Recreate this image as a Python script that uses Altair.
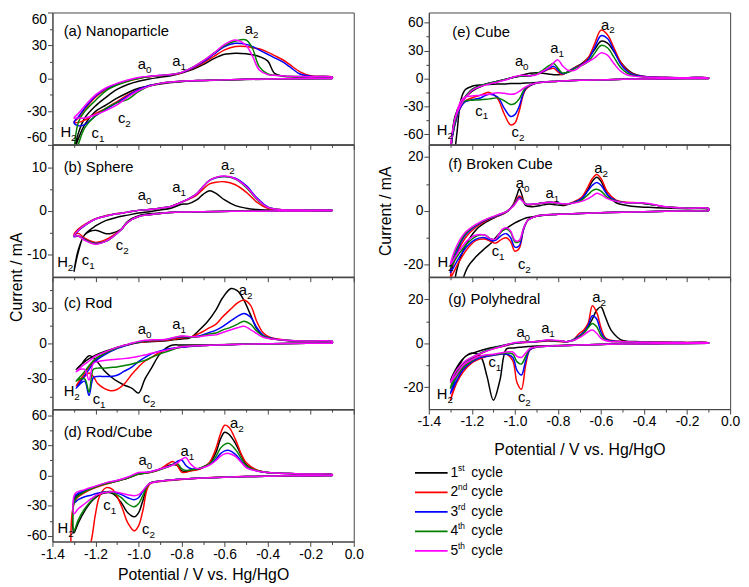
import altair as alt
import pandas as pd

FONT = "Liberation Sans, Arial, Helvetica, sans-serif"
FRAME = "#444444"
CYCLES = ["1st", "2nd", "3rd", "4th", "5th"]
CYCLE_NUM = ["1", "2", "3", "4", "5"]
CYCLE_SUP = ["st", "nd", "rd", "th", "th"]
COLORS = ["#000000", "#ff0000", "#0000ff", "#008000", "#ff00ff"]
X_TICKS = [round(-1.4 + 0.1 * i, 1) for i in range(15)]

# ---------------- (a) Nanoparticle ----------------
A_XLO = [-0.1, -0.3, -0.5, -0.7, -0.8, -0.9, -0.95, -1.0, -1.05, -1.1, -1.15, -1.2, -1.25, -1.28, -1.3]
A1_LO = [0, -0.4, -1, -2, -3, -5, -7, -9, -13, -18, -24, -30, -42, -55, -66]
A2_LO = [0, -0.3, -0.8, -1.8, -2.6, -4.5, -6.5, -10, -15, -21, -27, -32, -38, -40, -40]
A3_LO = [0, -0.3, -0.8, -1.8, -2.6, -4.5, -6.5, -10, -16, -22, -28, -34, -42, -43, -40]
A4_LO = [0, -0.3, -0.8, -1.8, -2.6, -4.5, -7, -12, -19, -22, -27, -34, -45, -60, -72]
A5_LO = [0, -0.3, -0.8, -1.8, -2.6, -4.5, -7, -11, -17, -24, -29, -33, -36, -36, -36]
A_XUP = [-1.3, -1.28, -1.25, -1.2, -1.15, -1.1, -1.05, -1.0, -0.95, -0.9, -0.85, -0.8, -0.75, -0.7,
         -0.65, -0.6, -0.55, -0.5, -0.47, -0.44, -0.4, -0.37, -0.33, -0.3, -0.25, -0.2, -0.1]
A1_UP = [-66, -50, -36, -25, -17, -10, -5.5, -2.5, -0.5, 1, 2.5, 5, 8, 12.5, 18, 22, 23, 22.5, 21.5, 20, 16, 5, 2, 1.5, 1.3, 1.2, 1]
A2_UP = [-40, -36, -28, -17, -10, -5.5, -2.5, 0, 1.5, 2.5, 3.3, 5, 9, 14, 20, 26, 29, 29, 28, 27, 24, 21, 17, 13, 6, 2.5, 1.2]
A3_UP = [-40, -35, -27, -16, -9, -5, -2, 0.5, 1.8, 2.6, 3.4, 5.3, 9.5, 15, 22, 29, 32, 31, 29, 26, 22, 19, 15, 11, 4, 2, 1.2]
A4_UP = [-72, -40, -30, -20, -11, -6, -2.5, 0, 1.8, 2.7, 3.5, 5.5, 10, 16, 23, 30, 34, 35, 27, 11, 4, 3, 2.4, 2, 1.8, 1.5, 1.2]
A5_UP = [-36, -32, -25, -15, -8.5, -4.5, -1.5, 0.8, 2, 2.8, 3.5, 5.5, 10, 16, 23, 31, 35, 30, 20, 8, 3.5, 2.8, 2.4, 2, 1.8, 1.5, 1.2]

# ---------------- (b) Sphere ----------------
B_XLO = [-0.1, -0.3, -0.5, -0.7, -0.8, -0.9, -0.95, -1.0, -1.05, -1.08, -1.12, -1.15, -1.2, -1.25, -1.28, -1.3]
B1_LO = [0, -0.05, -0.1, -0.2, -0.3, -0.5, -0.7, -1.1, -2.4, -4.2, -5.1, -5.3, -4.5, -5.5, -9.5, -14]
B2_LO = [0, -0.05, -0.1, -0.2, -0.3, -0.6, -0.9, -1.3, -2.6, -4.3, -5.7, -6.6, -7.3, -6.3, -5.2, -5.5]
B3_LO = [0, -0.05, -0.1, -0.2, -0.3, -0.6, -0.9, -1.3, -2.6, -4.3, -6.0, -7.0, -7.5, -6.6, -5.8, -6]
B4_LO = [0, -0.05, -0.1, -0.2, -0.3, -0.6, -0.9, -1.3, -2.6, -4.3, -6.0, -7.0, -7.6, -6.7, -5.8, -5.8]
B5_LO = [0, -0.05, -0.1, -0.2, -0.3, -0.6, -0.9, -1.3, -2.6, -4.3, -6.0, -7.0, -7.7, -6.8, -5.8, -5.8]
B_XUP = [-1.3, -1.28, -1.25, -1.2, -1.15, -1.1, -1.05, -1.0, -0.95, -0.9, -0.85, -0.8, -0.77, -0.73,
         -0.7, -0.67, -0.64, -0.6, -0.55, -0.5, -0.45, -0.4, -0.35, -0.3, -0.2, -0.1]
B1_UP = [-14, -9, -5.5, -3.5, -2.2, -1.5, -1, -0.5, -0.2, 0.2, 0.6, 1.5, 1.6, 2.5, 3.8, 4.6, 4.0, 2.5, 1.2, 0.6, 0.3, 0.2, 0.15, 0.1, 0.1, 0.1]
B2_UP = [-5.5, -4.2, -3.1, -1.8, -1.1, -0.6, -0.3, 0.1, 0.3, 0.6, 1.0, 2.0, 2.6, 3.6, 5.0, 6.2, 6.6, 6.7, 6.0, 4.3, 2.0, 0.6, 0.3, 0.2, 0.15, 0.1]
B3_UP = [-6, -4.6, -3.4, -1.9, -1.2, -0.7, -0.3, 0.1, 0.3, 0.6, 1.0, 2.0, 2.7, 3.9, 5.6, 7.0, 7.6, 7.9, 7.5, 5.8, 3.0, 0.9, 0.3, 0.2, 0.15, 0.1]
B4_UP = [-5.8, -4.5, -3.3, -1.9, -1.2, -0.7, -0.3, 0.1, 0.3, 0.6, 1.0, 2.0, 2.7, 3.9, 5.6, 7.0, 7.7, 7.9, 7.3, 5.4, 2.6, 0.8, 0.3, 0.2, 0.15, 0.1]
B5_UP = [-5.8, -4.5, -3.3, -1.9, -1.2, -0.7, -0.3, 0.1, 0.3, 0.6, 1.0, 2.0, 2.7, 3.9, 5.6, 7.0, 7.7, 8.0, 7.4, 5.6, 2.8, 0.8, 0.3, 0.2, 0.15, 0.1]

# ---------------- (c) Rod ----------------
C_XLO = [-0.1, -0.3, -0.5, -0.7, -0.8, -0.85, -0.9, -0.94, -0.97, -1.0, -1.03, -1.07, -1.1, -1.13,
         -1.16, -1.19, -1.21, -1.23, -1.25, -1.27, -1.29]
C1_LO = [0, -0.2, -0.8, -1.5, -1.5, -2, -9, -21, -30, -42, -38, -35, -32, -28, -23, -16, -12, -10.5, -14, -19, -22]
C2_LO = [0, -0.2, -0.8, -2, -3.5, -5, -7.5, -12, -15, -20, -26, -35, -39, -40, -38, -34, -28, -25, -28, -32, -36]
C3_LO = [0, -0.2, -0.8, -2, -3.5, -4.5, -6.5, -9, -12, -15.5, -20, -24, -27, -28, -28, -28, -29, -44, -32, -34, -38]
C4_LO = [0, -0.2, -0.8, -2, -3, -6, -9, -12, -14.5, -16, -17.5, -19, -20, -20.5, -21, -21, -22, -41, -30, -30, -32]
C5_LO = [0, -0.2, -0.8, -2, -3, -5, -7, -8.5, -10, -11, -12, -13, -13.5, -14, -14.5, -15.5, -17, -31, -22, -22, -24]
C_XUP = [-1.29, -1.26, -1.23, -1.2, -1.15, -1.1, -1.05, -1.0, -0.97, -0.93, -0.87, -0.83, -0.8, -0.76,
         -0.72, -0.68, -0.64, -0.61, -0.57, -0.54, -0.51, -0.48, -0.45, -0.42, -0.39, -0.35, -0.3, -0.2, -0.1]
C1_UP = [-22, -17, -13, -10, -6.5, -3.5, -1, 0.5, 1, 1.5, 2, 3, 3.5, 4.5, 10.7, 18, 28, 38, 46, 44, 36, 24, 12, 6, 4, 3, 2, 1.8, 1.5]
C2_UP = [-36, -28, -20, -14, -8, -4, -1.5, 0.5, 1.2, 1.8, 2.5, 3.5, 4.5, 5, 8, 12, 16, 22, 29, 34, 36.4, 32, 18, 8.5, 5, 3.5, 2.2, 1.8, 1.5]
C3_UP = [-38, -30, -22, -15, -9, -4.5, -1.5, 0.8, 1.8, 2.3, 3, 4.5, 5.5, 5, 6, 8.5, 11, 14, 19, 22.5, 25, 22, 13, 6.5, 4.5, 3, 2.2, 1.8, 1.5]
C4_UP = [-32, -26, -19, -13, -8, -4, -1.2, 1, 2, 2.5, 3.2, 4.8, 5.8, 5, 5.5, 7.5, 8.5, 11, 13.5, 16, 18.5, 16, 10, 6, 4.2, 3, 2.2, 1.8, 1.5]
C5_UP = [-24, -19, -15, -11, -7, -3.5, -1, 1.5, 2.5, 2.8, 3.3, 5, 6, 5.5, 5.5, 6.5, 7, 9, 11.3, 13, 14.3, 11.5, 8, 5, 3.8, 3, 2.2, 1.8, 1.5]

# ---------------- (d) Rod/Cube ----------------
D_XLO = [-0.1, -0.3, -0.5, -0.7, -0.8, -0.9, -0.95, -0.98, -1.0, -1.02, -1.05, -1.08, -1.12, -1.15,
         -1.18, -1.2, -1.22, -1.25, -1.28, -1.3]
D1_LO = [0, -0.3, -1, -2.5, -3.5, -5.5, -8, -25, -37, -41, -37, -27, -18, -17, -19, -22, -26, -35, -47, -57]
D2_LO = [0, -0.3, -1, -2.5, -4, -6, -9, -35, -50, -55, -47, -30, -14, -12, -20, -38, -65, -85, -90, -90]
D3_LO = [0, -0.3, -1, -2.5, -3.5, -5.5, -8, -16, -22, -24, -22, -19, -16, -16, -17, -18, -19.5, -21, -24, -27]
D4_LO = [0, -0.3, -1, -2.5, -3.5, -5.5, -8, -20, -28, -31, -28, -22, -17, -16, -18, -21, -25, -33, -44, -55]
D5_LO = [0, -0.3, -1, -2.5, -3.5, -5.5, -8, -15, -19, -20, -19, -17.5, -16, -16.5, -18, -20, -23, -28, -33, -38]
D_XUP = [-1.3, -1.295, -1.25, -1.2, -1.15, -1.1, -1.05, -1.0, -0.95, -0.9, -0.86, -0.84, -0.82, -0.8,
         -0.78, -0.76, -0.73, -0.7, -0.67, -0.64, -0.62, -0.6, -0.58, -0.55, -0.52, -0.5, -0.45, -0.4, -0.3, -0.2, -0.1]
D1_UP = [-57, -22, -16, -11.5, -8, -5.5, -2.5, 1.5, 3, 6, 10, 11, 10, 5, 4, 5, 6, 8.5, 12.5, 23, 36, 43, 41, 32, 19, 11, 5, 3, 2, 1.5, 1]
D2_UP = [-90, -25, -17, -12, -8.5, -5.5, -2.5, 1.5, 3, 6.5, 12, 14, 10, 3.5, 3.2, 4.5, 5.5, 8, 13, 27, 41, 50, 48, 36, 20, 13, 5.5, 3, 2, 1.5, 1]
D3_UP = [-27, -20, -15, -11, -7.5, -5, -2, 2, 3.5, 6.5, 9, 11, 14, 15.5, 10, 7, 6.5, 8, 11, 16.5, 21.5, 24.5, 25, 21, 13.5, 8.5, 4.5, 3, 2, 1.5, 1]
D4_UP = [-55, -24, -16, -11.5, -8, -5.5, -2.5, 1.5, 3, 6, 9, 11, 12, 7, 5, 5.5, 6.5, 8.5, 12, 19, 27, 31, 32, 26, 16, 10, 5, 3, 2, 1.5, 1]
D5_UP = [-38, -18, -14, -10.5, -7, -5, -1.5, 3, 3.5, 6.5, 9, 10.5, 12.5, 16, 18, 12, 7, 8, 10.5, 15, 19, 21.5, 22, 19, 12.5, 8, 4.5, 3, 2, 1.5, 1]

# ---------------- (e) Cube ----------------
E_XLO = [-0.1, -0.3, -0.5, -0.7, -0.8, -0.9, -0.95, -0.98, -1.0, -1.02, -1.05, -1.08, -1.12, -1.16,
         -1.2, -1.23, -1.25, -1.27, -1.29, -1.3]
E1_LO = [0, -0.3, -1, -2, -3, -4.5, -5, -5.5, -5.5, -5.5, -6, -6, -6.5, -7, -8.5, -12, -22, -60, -100, -110]
E2_LO = [0, -0.3, -1, -2, -3, -5, -12, -35, -48, -50, -38, -22, -15, -18, -21, -24, -30, -42, -62, -80]
E3_LO = [0, -0.3, -1, -2, -3, -5, -11, -30, -39, -41, -32, -20, -17, -21, -23, -25, -30, -42, -62, -80]
E4_LO = [0, -0.3, -1, -2, -3, -5, -10, -22, -27, -28, -24, -21, -22, -23, -23.5, -24, -28, -40, -60, -78]
E5_LO = [0, -0.3, -1, -2, -3, -5, -9, -14, -16.5, -17, -16, -15.5, -17, -18, -19, -20, -24, -36, -57, -76]
E_XUP = [-1.3, -1.28, -1.25, -1.2, -1.15, -1.1, -1.05, -1.0, -0.97, -0.93, -0.9, -0.87, -0.84, -0.82,
         -0.8, -0.78, -0.75, -0.72, -0.69, -0.66, -0.63, -0.6, -0.57, -0.54, -0.51, -0.48, -0.45, -0.4, -0.3, -0.2, -0.1]
E1_UP = [-110, -42, -26, -14, -8, -4.5, -1.5, 1.5, 3.5, 5.5, 6, 5.5, 4.5, 4, 4, 4.5, 7, 12, 16, 22, 31, 40, 38, 29, 18, 10, 5, 2, 1, 0.8, 0.5]
E2_UP = [-80, -45, -27, -12, -7, -4, -1.5, 1.5, 2.5, 3, 4.5, 7, 10, 11, 7, 4, 8, 12, 15, 22, 37, 52, 47, 33, 18, 9, 4.5, 2, 1, 0.8, 0.5]
E3_UP = [-80, -45, -27, -12, -7, -4, -1.5, 1.5, 2.5, 3, 4.5, 7.5, 11, 13, 9, 5, 7.5, 11.5, 14.5, 20, 33, 46, 43, 30, 16, 8, 4, 2, 1, 0.8, 0.5]
E4_UP = [-78, -45, -27, -12, -7, -4, -1.5, 1.5, 2.5, 3, 5, 9, 14, 16, 11, 6, 7, 11, 14, 18, 27, 35.5, 33, 23, 12, 6, 3, 1.5, 1, 0.8, 0.5]
E5_UP = [-76, -45, -28, -13, -8, -5, -2, 2, 3.5, 3, 4, 8, 12, 17, 20, 14, 8.5, 9, 14, 18, 22, 27.5, 25, 16, 8, 4, 2.5, 1.5, 1, 0.8, 0.5]

# ---------------- (f) Broken Cube ----------------
F_XLO = [-0.1, -0.3, -0.5, -0.7, -0.8, -0.9, -0.94, -0.96, -0.98, -1.0, -1.02, -1.04, -1.06, -1.09,
         -1.11, -1.14, -1.18, -1.22, -1.26, -1.3]
F1_LO = [0, -0.2, -0.5, -1, -1.3, -2, -2.5, -3, -3.7, -4.5, -5.5, -6.5, -7.5, -10, -12, -14, -17, -21, -30, -40]
F2_LO = [0, -0.2, -0.5, -1, -1.3, -2, -3.5, -7, -14, -15, -11.5, -10, -10.5, -12, -11.5, -10.5, -11, -14, -19, -25]
F3_LO = [0, -0.2, -0.5, -1, -1.3, -2, -3.5, -7, -13, -13.5, -10, -8.5, -9, -11, -11, -10, -10.5, -13, -17.5, -23]
F4_LO = [0, -0.2, -0.5, -1, -1.3, -2, -3.5, -6.5, -11.5, -11.5, -8, -6.8, -7.5, -10.5, -10.5, -9, -9.5, -12, -16, -21]
F5_LO = [0, -0.2, -0.5, -1, -1.3, -2, -3.5, -6.5, -11, -11, -7.5, -6.3, -7, -10.5, -10.5, -9, -9, -11, -15, -20]
F_XUP = [-1.3, -1.27, -1.23, -1.18, -1.13, -1.08, -1.04, -1.01, -0.99, -0.98, -0.97, -0.95, -0.92, -0.88,
         -0.84, -0.81, -0.77, -0.73, -0.69, -0.66, -0.64, -0.62, -0.6, -0.57, -0.53, -0.48, -0.43, -0.38, -0.3, -0.2, -0.1]
F1_UP = [-40, -22, -13, -7, -4, -2, -0.5, 2, 6, 8.2, 6.5, 2, 1.5, 2, 2.5, 2.2, 2, 3, 4.5, 8, 11, 12.5, 11, 6, 3, 2, 1.5, 1.3, 1, 0.8, 0.6]
F2_UP = [-25, -16, -10, -6, -3.5, -2, -0.5, 2, 4.5, 5.5, 5, 2.5, 2.3, 2.8, 3.2, 3, 2.3, 3.2, 5, 9, 12, 13.5, 12, 7, 4, 3.2, 3, 2.5, 1.5, 1, 0.8]
F3_UP = [-23, -15, -9, -5.5, -3.3, -1.8, -0.4, 1.8, 4, 5, 4.5, 2.5, 2.4, 2.8, 3.2, 3, 2.4, 3, 4.5, 7.5, 9.5, 10.5, 9.5, 6, 3.8, 3, 3, 2.5, 1.5, 1, 0.8]
F4_UP = [-21, -14, -8.5, -5.2, -3.1, -1.6, -0.3, 1.6, 3.8, 4.7, 4.2, 2.5, 2.4, 2.8, 3.2, 3, 2.4, 2.9, 4, 6, 7.5, 8, 7.3, 5, 3.6, 3, 3, 2.5, 1.5, 1, 0.8]
F5_UP = [-20, -13, -8, -5, -3, -1.5, -0.3, 1.5, 3.5, 4.5, 4, 2.5, 2.5, 2.8, 3.2, 3, 2.5, 2.8, 3.5, 4.5, 5.5, 6.5, 6, 4.5, 3.5, 3, 3, 2.7, 1.5, 1, 0.8]

# ---------------- (g) Polyhedral ----------------
G_XLO = [-0.1, -0.3, -0.5, -0.7, -0.8, -0.9, -0.93, -0.95, -0.97, -0.99, -1.01, -1.04, -1.07, -1.1,
         -1.13, -1.16, -1.2, -1.24, -1.27, -1.3]
G1_LO = [0, -0.2, -0.4, -0.8, -1, -1.3, -1.5, -1.6, -1.8, -2, -2.2, -2.7, -17, -26, -15, -6, -4.5, -7, -11, -17]
G2_LO = [0, -0.2, -0.4, -0.8, -1.2, -1.8, -3, -10, -21, -18, -8, -5, -5, -5.5, -6, -7, -9, -13, -18, -26]
G3_LO = [0, -0.2, -0.4, -0.8, -1.2, -1.8, -3, -8, -14.5, -12.5, -6.5, -5, -5, -5.5, -6, -6.5, -8.5, -12, -17, -23]
G4_LO = [0, -0.2, -0.4, -0.8, -1.2, -1.8, -2.5, -6, -9.5, -8.5, -5, -4.5, -4.8, -5.2, -5.5, -6, -8, -11, -15, -20.5]
G5_LO = [0, -0.2, -0.4, -0.8, -1.2, -1.8, -2.5, -4.5, -6.5, -6, -4, -4, -4.5, -5, -5.3, -5.8, -7.5, -10, -14, -18]
G_XUP = [-1.3, -1.27, -1.23, -1.18, -1.13, -1.08, -1.03, -1.0, -0.95, -0.9, -0.85, -0.8, -0.76, -0.73,
         -0.7, -0.68, -0.66, -0.64, -0.62, -0.6, -0.58, -0.55, -0.5, -0.45, -0.4, -0.3, -0.2, -0.1]
G1_UP = [-17, -12, -6, -4, -2.5, -1.5, -0.5, 0, 0.5, 0.8, 1.2, 1, 0.7, 1.2, 3, 5, 7.5, 11, 15, 16.5, 12, 5.5, 1.2, 0.8, 0.5, 0.4, 0.3, 0.2]
G2_UP = [-26, -17, -10, -6, -3.5, -2, -0.8, 0, 0.3, 0.6, 1, 0.8, 0.6, 1.5, 4.5, 6, 9, 17, 14, 7, 2.5, 1.2, 0.8, 0.6, 0.5, 0.4, 0.3, 0.2]
G3_UP = [-23, -15, -9, -5.5, -3.3, -1.8, -0.7, 0, 0.4, 0.7, 1.2, 1, 0.7, 1.5, 3.5, 5, 8, 12.5, 11, 5, 2, 1, 0.7, 0.5, 0.4, 0.3, 0.25, 0.2]
G4_UP = [-20.5, -13, -8.5, -5.5, -3.3, -1.8, -0.6, 0.1, 0.5, 0.8, 1.3, 1, 0.7, 1.4, 3, 4.5, 7, 9, 7.5, 3.5, 1.5, 0.8, 0.6, 0.5, 0.4, 0.3, 0.25, 0.2]
G5_UP = [-18, -12, -8, -5.5, -3.5, -2, -0.5, 0.3, 0.5, 0.8, 1.5, 1.2, 0.7, 1.2, 2.5, 3.8, 5.2, 6, 4.5, 2.2, 1.2, 0.7, 0.6, 0.5, 0.4, 0.3, 0.25, 0.2]

# ---------------- panel texts ----------------
PANEL_KEYS = ["a", "b", "c", "d", "e", "f", "g"]
PANEL_TITLES = ["(a) Nanoparticle", "(b) Sphere", "(c) Rod", "(d) Rod/Cube",
                "(e) Cube", "(f) Broken Cube", "(g) Polyhedral"]
TITLE_X = [-1.348, -1.348, -1.348, -1.348, -1.291, -1.31, -1.31]
TITLE_Y = [43, 10, 34, 43, 50, 17.5, 20]

LBL_PANEL = (["a"] * 6 + ["b"] * 6 + ["c"] * 6 + ["d"] * 6 + ["e"] * 6 + ["f"] * 6 + ["g"] * 6)
LBL_BASE = ["a", "a", "a", "c", "c", "H"] * 7
LBL_SUB = ["0", "1", "2", "1", "2", "2"] * 7
LBL_X = [-1.004, -0.843, -0.506, -1.218, -1.096, -1.363,
         -1.004, -0.843, -0.617, -1.264, -1.106, -1.378,
         -1.004, -0.843, -0.534, -1.213, -0.981, -1.348,
         -1.000, -0.805, -0.575, -1.164, -0.984, -1.376,
         -1.000, -0.836, -0.600, -1.184, -1.016, -1.363,
         -0.996, -0.858, -0.631, -1.108, -0.986, -1.360,
         -0.993, -0.878, -0.641, -1.123, -0.986, -1.363]
LBL_Y = [12.7, 15.8, 44.5, -49.4, -35.8, -48.5,
         3.6, 5.5, 10.5, -11.3, -8.0, -11.9,
         12.1, 16.3, 45.0, -47.0, -46.3, -40.2,
         15.2, 24.3, 52.0, -29.2, -53.5, -52.0,
         18.4, 32.5, 58.0, -34.6, -57.5, -55.8,
         10.2, 6.7, 15.7, -15.0, -19.9, -19.2,
         5.2, 6.7, 20.8, -8.8, -24.7, -23.2]


def loops(key, xlo, los, xup, ups):
    rows = []
    for ci in range(5):
        assert len(xlo) == len(los[ci]), (key, ci, "lo")
        assert len(xup) == len(ups[ci]), (key, ci, "up")
        pts = list(zip(xlo, los[ci]))
        up = list(zip(xup, ups[ci]))
        if up[0] == pts[-1]:
            up = up[1:]
        pts = pts + up + [pts[0]]
        for k, (v, i) in enumerate(pts):
            rows.append({"panel": key, "cycle": CYCLES[ci], "k": k, "V": v, "I": i})
    return rows


rows = []
rows += loops("a", A_XLO, [A1_LO, A2_LO, A3_LO, A4_LO, A5_LO], A_XUP, [A1_UP, A2_UP, A3_UP, A4_UP, A5_UP])
rows += loops("b", B_XLO, [B1_LO, B2_LO, B3_LO, B4_LO, B5_LO], B_XUP, [B1_UP, B2_UP, B3_UP, B4_UP, B5_UP])
rows += loops("c", C_XLO, [C1_LO, C2_LO, C3_LO, C4_LO, C5_LO], C_XUP, [C1_UP, C2_UP, C3_UP, C4_UP, C5_UP])
rows += loops("d", D_XLO, [D1_LO, D2_LO, D3_LO, D4_LO, D5_LO], D_XUP, [D1_UP, D2_UP, D3_UP, D4_UP, D5_UP])
rows += loops("e", E_XLO, [E1_LO, E2_LO, E3_LO, E4_LO, E5_LO], E_XUP, [E1_UP, E2_UP, E3_UP, E4_UP, E5_UP])
rows += loops("f", F_XLO, [F1_LO, F2_LO, F3_LO, F4_LO, F5_LO], F_XUP, [F1_UP, F2_UP, F3_UP, F4_UP, F5_UP])
rows += loops("g", G_XLO, [G1_LO, G2_LO, G3_LO, G4_LO, G5_LO], G_XUP, [G1_UP, G2_UP, G3_UP, G4_UP, G5_UP])
curves = pd.DataFrame(rows)

PX_PER_V = 305 / 1.4
LETTER_W = {"a": 8.3, "c": 7.5, "H": 10.8}
lab_base = pd.DataFrame({"panel": LBL_PANEL, "V": LBL_X, "I": LBL_Y, "t": LBL_BASE})
lab_sub = pd.DataFrame({"panel": LBL_PANEL,
                        "V": [x + LETTER_W[b] / PX_PER_V for x, b in zip(LBL_X, LBL_BASE)],
                        "I": LBL_Y, "t": LBL_SUB})
titles = pd.DataFrame({"panel": PANEL_KEYS, "V": TITLE_X, "I": TITLE_Y, "t": PANEL_TITLES})

cscale = alt.Scale(domain=CYCLES, range=COLORS)
XMAJ = "abs(round(datum.value * 10)) % 2 == 0"
XLAB = XMAJ + " ? replace(format(datum.value, '.1f'), '\u2212', '-') : ''"

Y_CFG = {
    "a": ([-60, 60], [-60, -45, -30, -15, 0, 15, 30, 45, 60], 30),
    "b": ([-15.2, 15.2], [-10, -5, 0, 5, 10], 10),
    "c": ([-55.5, 55.5], [-45, -30, -15, 0, 15, 30, 45], 30),
    "d": ([-65.5, 65.5], [-60, -45, -30, -15, 0, 15, 30, 45, 60], 30),
    "e": ([-71, 71], [-60, -45, -30, -15, 0, 15, 30, 45, 60], 30),
    "f": ([-24.5, 24.5], [-20, -10, 0, 10, 20], 20),
    "g": ([-30, 30], [-20, -10, 0, 10, 20], 20),
}

W, H = 305, 133.5


def panel(key, bottom=False, ytitle=None, title_pad=6):
    dom, vals, step = Y_CFG[key]
    xkw = dict(values=X_TICKS, grid=False, domainColor=FRAME, tickColor=FRAME, tickWidth=1,
               tickSize={"condition": {"test": XMAJ, "value": 5}, "value": 3},
               labelFont=FONT, labelFontSize=14, labelColor="black", labelPadding=1,
               labelFlush=False, labelOverlap=False)
    if bottom:
        xkw.update(labelExpr=XLAB, title="Potential / V vs. Hg/HgO", titleFont=FONT,
                   titleFontSize=16, titleFontWeight="normal", titleColor="black",
                   titlePadding=title_pad)
    else:
        xkw.update(labels=False, title="")
    test = f"datum.value % {step} == 0"
    ykw = dict(values=vals, grid=False, domainColor=FRAME, tickColor=FRAME, tickWidth=1,
               tickSize={"condition": {"test": test, "value": 5}, "value": 3},
               labelExpr=f"{test} ? '' + datum.value : ''",
               labelFont=FONT, labelFontSize=14, labelColor="black", labelPadding=1,
               labelFlush=(key == "a"), labelOverlap=False)
    if ytitle:
        ykw.update(title="Current / mA", titleFont=FONT, titleFontSize=16,
                   titleFontWeight="normal", titleColor="black", titleX=ytitle[0],
                   titleY=ytitle[1], titleAngle=-90, titleAlign="center", titleBaseline="middle")
    else:
        ykw.update(title="")
    x = alt.X("V:Q", scale=alt.Scale(domain=[-1.4, 0.0], nice=False, zero=False), axis=alt.Axis(**xkw))
    y = alt.Y("I:Q", scale=alt.Scale(domain=dom, nice=False, zero=False), axis=alt.Axis(**ykw))

    lines = alt.Chart(curves[curves.panel == key]).mark_line(
        clip=True, strokeWidth=1.5, interpolate="catmull-rom"
    ).encode(x=x, y=y, color=alt.Color("cycle:N", scale=cscale, legend=None), order="k:Q")
    ttl = alt.Chart(titles[titles.panel == key]).mark_text(
        align="left", baseline="middle", font=FONT, fontSize=15, color="black"
    ).encode(x=x, y=y, text="t:N")
    lb = alt.Chart(lab_base[lab_base.panel == key]).mark_text(
        align="left", baseline="middle", font=FONT, fontSize=15, color="black"
    ).encode(x=x, y=y, text="t:N")
    ls = alt.Chart(lab_sub[lab_sub.panel == key]).mark_text(
        align="left", baseline="middle", font=FONT, fontSize=10, dy=6, color="black"
    ).encode(x=x, y=y, text="t:N")
    return alt.layer(lines, ttl, lb, ls).properties(width=W, height=H)


pa = panel("a")
pb = panel("b", ytitle=(-36, H))
pc = panel("c")
pd_ = panel("d", bottom=True, title_pad=5)
pe = panel("e")
pf = panel("f", ytitle=(-44, H / 2))
pg = panel("g", bottom=True, title_pad=13)

# legend panel (custom, to allow superscripts)
leg_df = pd.DataFrame({"cycle": CYCLES, "row": list(range(5)), "num": CYCLE_NUM,
                       "sup": CYCLE_SUP, "word": ["cycle"] * 5})
ly = alt.Y("row:Q", scale=alt.Scale(domain=[-3.24, 4.354], reverse=True, nice=False, zero=False), axis=None)
leg_base = alt.Chart(leg_df)
leg = alt.layer(
    leg_base.mark_rule(strokeWidth=1.6).encode(
        x=alt.value(-14), x2=alt.value(19), y=ly,
        color=alt.Color("cycle:N", scale=cscale, legend=None)),
    leg_base.mark_text(align="left", baseline="middle", font=FONT, fontSize=14, color="black").encode(
        x=alt.value(22), y=ly, text="num:N"),
    leg_base.mark_text(align="left", baseline="middle", font=FONT, fontSize=8.5, dy=-5, color="black").encode(
        x=alt.value(29.5), y=ly, text="sup:N"),
    leg_base.mark_text(align="left", baseline="middle", font=FONT, fontSize=14, color="black").encode(
        x=alt.value(43), y=ly, text="word:N"),
).properties(width=W, height=150, view=alt.ViewBackground(strokeOpacity=0))

chart = alt.concat(
    pa, pe, pb, pf, pc, pg, pd_, leg,
    columns=2, spacing={"row": 0, "column": 76}, bounds="flush"
).resolve_scale(
    x="independent", y="independent"
).properties(padding=0, background="white").configure_view(stroke=FRAME, strokeWidth=1)

chart.save("out.html", embed_options={"renderer": "svg", "actions": False})
